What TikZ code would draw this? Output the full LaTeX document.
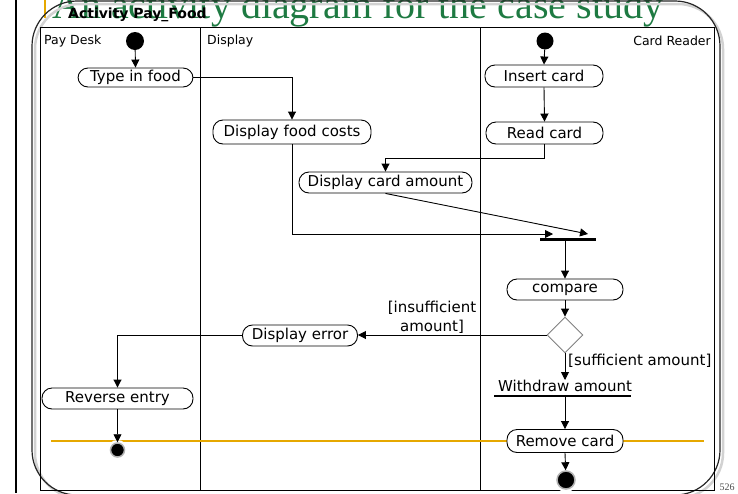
\documentclass[tikz,border=0pt]{standalone}
\usepackage{fontspec}
\setmainfont{DejaVu Sans}
\newfontfamily\titlefont{Liberation Serif}
\usetikzlibrary{arrows.meta,shapes.geometric}
\definecolor{titlegreen}{RGB}{30,122,66}
\definecolor{goldline}{RGB}{230,168,0}
\tikzset{
 act/.style={draw, fill=white, rounded corners=10pt, minimum height=21pt, inner sep=0pt, line width=0.9pt, font=\fontsize{15}{18}\selectfont},
 conn/.style={line width=0.9pt, -{Triangle[length=8pt,width=8pt]}},
 initn/.style={circle, fill=black, minimum size=18pt, inner sep=0pt},
 finaln/.style={circle, fill=black, draw=gray!60, line width=1.5pt, inner sep=0pt, preaction={draw=white, line width=6pt}},
 joinbar/.style={fill=black, minimum height=3pt, inner sep=0pt},
 lanelbl/.style={font=\fontsize{12.5}{15}\selectfont, inner sep=0pt},
 guardlbl/.style={font=\fontsize{15}{19}\selectfont, inner sep=0pt},
}
\begin{document}
\begin{tikzpicture}[x=1pt,y=-1pt]
\useasboundingbox (0,0) rectangle (738,493);
% slide decorations
\node[anchor=base west, font=\titlefont\fontsize{40}{40}\selectfont, text=titlegreen, inner sep=0pt] (title) at (52,18) {An activity diagram for the case study};
\draw[black, line width=2pt] (16,0) -- (16,493);
\draw[goldline, line width=1.5pt] (45,0) -- (45,18);
% rounded frame with shadow
\draw[gray!35, line width=2.5pt, rounded corners=45pt] (35,4) rectangle (723,498);
\draw[black!85, line width=1.2pt, rounded corners=45pt] (32,1) rectangle (720,495);
% swimlanes
\draw[line width=1pt] (40,27) rectangle (714,490);
\draw[line width=1pt] (200,27) -- (200,490);
\draw[line width=1pt] (480,27) -- (480,490);
\node[anchor=base west, font=\bfseries\fontsize{14}{14}\selectfont, inner sep=0pt] (albl) at (68,18.5) {Activity Pay\_Food};
\node[lanelbl, anchor=west] (l1) at (44,41) {Pay Desk};
\node[lanelbl, anchor=west] (l2) at (207,41) {Display};
\node[lanelbl, anchor=east] (l3) at (711,41) {Card Reader};
% gold line
\draw[goldline, line width=1.2pt] (51,441) -- (704,441);
% nodes
\node[initn] (i1) at (135,41) {};
\node[initn, minimum size=17pt] (i2) at (545,41) {};
\node[act, minimum width=115pt, minimum height=19pt] (tif) at (135.5,77.5) {Type in food};
\node[act, minimum width=118pt, minimum height=22pt] (ins) at (544,76) {Insert card};
\node[act, minimum width=117pt, minimum height=22pt] (rdc) at (544.5,133) {Read card};
\node[act, minimum width=158pt, minimum height=24pt] (dfc) at (292,132) {Display food costs};
\node[act, minimum width=173pt] (dca) at (385.5,182.5) {Display card amount};
\node[joinbar, minimum width=56pt] (jb) at (568,239) {};
\coordinate (j1) at (553,234);
\coordinate (j2) at (588,234);
\node[act, minimum width=116pt] (cmp) at (565,289.5) {compare};
\node[diamond, draw=gray, line width=0.9pt, minimum width=36pt, minimum height=36pt, inner sep=0pt] (dia) at (565,335) {};
\node[act, minimum width=115pt] (der) at (300,335.5) {Display error};
\node[act, minimum width=151pt] (rev) at (117.5,398.5) {Reverse entry};
\node[guardlbl, align=center] (g1) at (432,317) {[insufficient\\amount]};
\node[guardlbl, anchor=west] (g2) at (568,361) {[sufficient amount]};
\node[font=\fontsize{15}{18}\selectfont, inner sep=0pt] (wd) at (565,386) {Withdraw amount};
\node[joinbar, minimum width=137pt, minimum height=2pt] (wb) at (562.5,396) {};
\node[act, minimum width=116pt, minimum height=23pt] (rmc) at (565,441) {Remove card};
\node[finaln, minimum size=14pt] (f1) at (117.5,450) {};
\node[finaln, minimum size=18pt] (f2) at (566,480) {};
% connectors
\draw[conn] (i1) -- (tif.north);
\draw[conn] (tif.east) -| (dfc.north);
\draw[conn] (i2) -- (ins.north);
\draw[conn] (ins.south) -- (rdc.north);
\draw[conn] (rdc.south) -- ++(0,14) -| (dca.north);
\draw[conn] (dfc.south) |- (j1);
\draw[conn] (dca.south) -- (j2);
\draw[conn] (jb.south -| cmp.north) -- (cmp.north);
\draw[conn] (cmp.south) -- (dia.north);
\draw[conn] (dia.west) -- (dia.west -| der.east);
\draw[conn] (der.west) -| (rev.north);
\draw[conn] (rev.south) -- (f1);
\draw[conn] (dia.south) -- (dia.south |- wd.north);
\draw[conn] (wb.south -| rmc.north) -- (rmc.north);
\draw[conn] (rmc.south) -- (f2);
% page number
\node[font=\titlefont\fontsize{10}{10}\selectfont, text=black!70, inner sep=0pt] (pg) at (727,487) {526};
\end{tikzpicture}
\end{document}
